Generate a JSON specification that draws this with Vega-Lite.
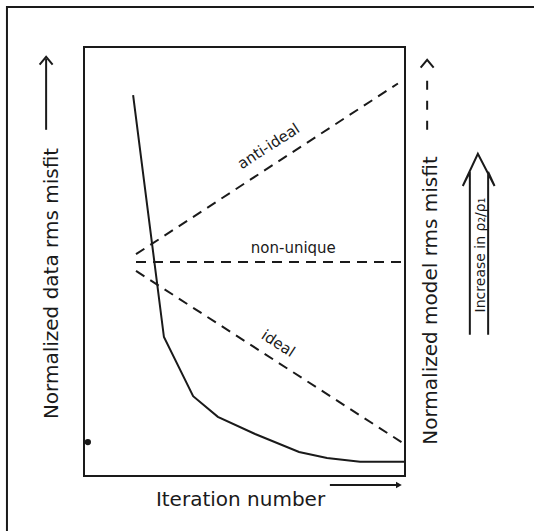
{
  "$schema": "https://vega.github.io/schema/vega-lite/v6.json",
  "width": 321,
  "height": 429,
  "autosize": {"type": "none"},
  "padding": {"left": 84, "top": 47, "right": 129, "bottom": 55},
  "background": "white",
  "config": {
    "view": {"stroke": "#1a1a1a", "strokeWidth": 2},
    "axis": {"ticks": false, "labels": false, "domain": false, "grid": false, "titleFont": "DejaVu Sans", "titleFontSize": 20, "titleFontWeight": "normal", "titleColor": "#1a1a1a"}
  },
  "datasets": {
    "frame": [{"x": -24, "y": 109.3, "x2": 143.6, "y2": -16.1}],
    "curve": [
      {"x": 15.3, "y": 88.8}, {"x": 24.9, "y": 32.4}, {"x": 34.0, "y": 18.6}, {"x": 41.7, "y": 13.8},
      {"x": 53.3, "y": 9.8}, {"x": 67.0, "y": 5.6}, {"x": 75.7, "y": 4.2}, {"x": 86.0, "y": 3.3}, {"x": 100, "y": 3.3}
    ],
    "model": [
      {"series": "anti-ideal", "x": 16.2, "y": 51.7}, {"series": "anti-ideal", "x": 97.8, "y": 91.5},
      {"series": "non-unique", "x": 16.2, "y": 49.9}, {"series": "non-unique", "x": 99.4, "y": 49.9},
      {"series": "ideal", "x": 16.2, "y": 47.8}, {"series": "ideal", "x": 98.9, "y": 7.9}
    ],
    "labels": [
      {"label": "anti-ideal", "x": 57.5, "y": 76.9},
      {"label": "non-unique", "x": 65.2, "y": 53.1},
      {"label": "ideal", "x": 60.5, "y": 30.9}
    ],
    "dot": [{"x": 1.2, "y": 7.9}],
    "shafts": [
      {"arrow": "data", "x": -11.8, "y": 80.7, "x2": -11.8, "y2": 97.2},
      {"arrow": "iteration", "x": 76.6, "y": -2.1, "x2": 97.5, "y2": -2.1}
    ],
    "modelshaft": [{"arrow": "model", "x": 106.9, "y": 80.7, "x2": 106.9, "y2": 92.3}],
    "upheads": [{"arrow": "data", "x": -11.8, "y": 97.7}, {"arrow": "model", "x": 106.9, "y": 97.0}],
    "rightheads": [{"arrow": "iteration", "x": 98.1, "y": -2.1}],
    "hollow": [
      {"i": 1, "x": 120.2, "y": 32.9}, {"i": 2, "x": 120.2, "y": 70.9}, {"i": 3, "x": 118.0, "y": 67.6},
      {"i": 4, "x": 122.7, "y": 75.1}, {"i": 5, "x": 127.9, "y": 67.6}, {"i": 6, "x": 125.9, "y": 70.9},
      {"i": 7, "x": 125.9, "y": 32.9}
    ],
    "note": [{"label": "Increase in ρ₂/ρ₁", "x": 123.6, "y": 51.5}]
  },
  "encoding": {
    "x": {"field": "x", "type": "quantitative", "scale": {"domain": [0, 100], "nice": false, "zero": false},
          "axis": {"title": "Iteration number", "titleX": 156, "titleY": 23, "titleBaseline": "middle", "titleAlign": "center"}},
    "y": {"field": "y", "type": "quantitative", "scale": {"domain": [0, 100], "nice": false, "zero": false}, "axis": null}
  },
  "layer": [
    {
      "data": {"name": "frame"},
      "mark": {"type": "rect", "filled": false, "stroke": "#1a1a1a", "strokeWidth": 2},
      "encoding": {"x2": {"field": "x2"}, "y2": {"field": "y2"}}
    },
    {
      "data": {"name": "curve"},
      "mark": {"type": "line", "stroke": "#1a1a1a", "strokeWidth": 2},
      "encoding": {
        "y": {"field": "y", "type": "quantitative", "scale": {"domain": [0, 100], "nice": false, "zero": false},
              "axis": {"orient": "left", "title": "Normalized data rms misfit", "titleAngle": 270, "titleX": -33, "titleY": 236, "titleBaseline": "middle", "titleAlign": "center"}}
      }
    },
    {
      "data": {"name": "model"},
      "mark": {"type": "line", "stroke": "#1a1a1a", "strokeWidth": 2, "strokeDash": [10, 7]},
      "encoding": {
        "detail": {"field": "series"},
        "y": {"field": "y", "type": "quantitative", "scale": {"domain": [0, 100], "nice": false, "zero": false},
              "axis": {"orient": "right", "title": "Normalized model rms misfit", "titleAngle": 270, "titleX": 25, "titleY": 253, "titleBaseline": "middle", "titleAlign": "center"}}
      }
    },
    {
      "data": {"name": "labels"},
      "transform": [{"filter": "datum.label === 'anti-ideal'"}],
      "mark": {"type": "text", "font": "DejaVu Sans", "fontSize": 15, "angle": 327, "color": "#1a1a1a"},
      "encoding": {"text": {"field": "label"}}
    },
    {
      "data": {"name": "labels"},
      "transform": [{"filter": "datum.label === 'non-unique'"}],
      "mark": {"type": "text", "font": "DejaVu Sans", "fontSize": 15, "color": "#1a1a1a"},
      "encoding": {"text": {"field": "label"}}
    },
    {
      "data": {"name": "labels"},
      "transform": [{"filter": "datum.label === 'ideal'"}],
      "mark": {"type": "text", "font": "DejaVu Sans", "fontSize": 15, "angle": 33, "color": "#1a1a1a"},
      "encoding": {"text": {"field": "label"}}
    },
    {
      "data": {"name": "dot"},
      "mark": {"type": "point", "filled": true, "color": "#1a1a1a", "size": 40, "opacity": 1}
    },
    {
      "data": {"name": "shafts"},
      "mark": {"type": "rule", "stroke": "#1a1a1a", "strokeWidth": 2},
      "encoding": {"x2": {"field": "x2"}, "y2": {"field": "y2"}}
    },
    {
      "data": {"name": "modelshaft"},
      "mark": {"type": "rule", "stroke": "#1a1a1a", "strokeWidth": 2, "strokeDash": [9, 11]},
      "encoding": {"x2": {"field": "x2"}, "y2": {"field": "y2"}}
    },
    {
      "data": {"name": "upheads"},
      "mark": {"type": "point", "shape": "M-1,1.2L0,0L1,1.2", "filled": false, "stroke": "#1a1a1a", "strokeWidth": 2, "size": 169, "opacity": 1}
    },
    {
      "data": {"name": "rightheads"},
      "mark": {"type": "point", "shape": "triangle-right", "filled": true, "color": "#1a1a1a", "size": 45, "opacity": 1}
    },
    {
      "data": {"name": "hollow"},
      "mark": {"type": "line", "stroke": "#1a1a1a", "strokeWidth": 2},
      "encoding": {"order": {"field": "i", "type": "quantitative"}}
    },
    {
      "data": {"name": "note"},
      "mark": {"type": "text", "font": "DejaVu Sans", "fontSize": 14, "angle": 270, "color": "#1a1a1a"},
      "encoding": {"text": {"field": "label"}}
    }
  ],
  "resolve": {"axis": {"y": "independent"}}
}
